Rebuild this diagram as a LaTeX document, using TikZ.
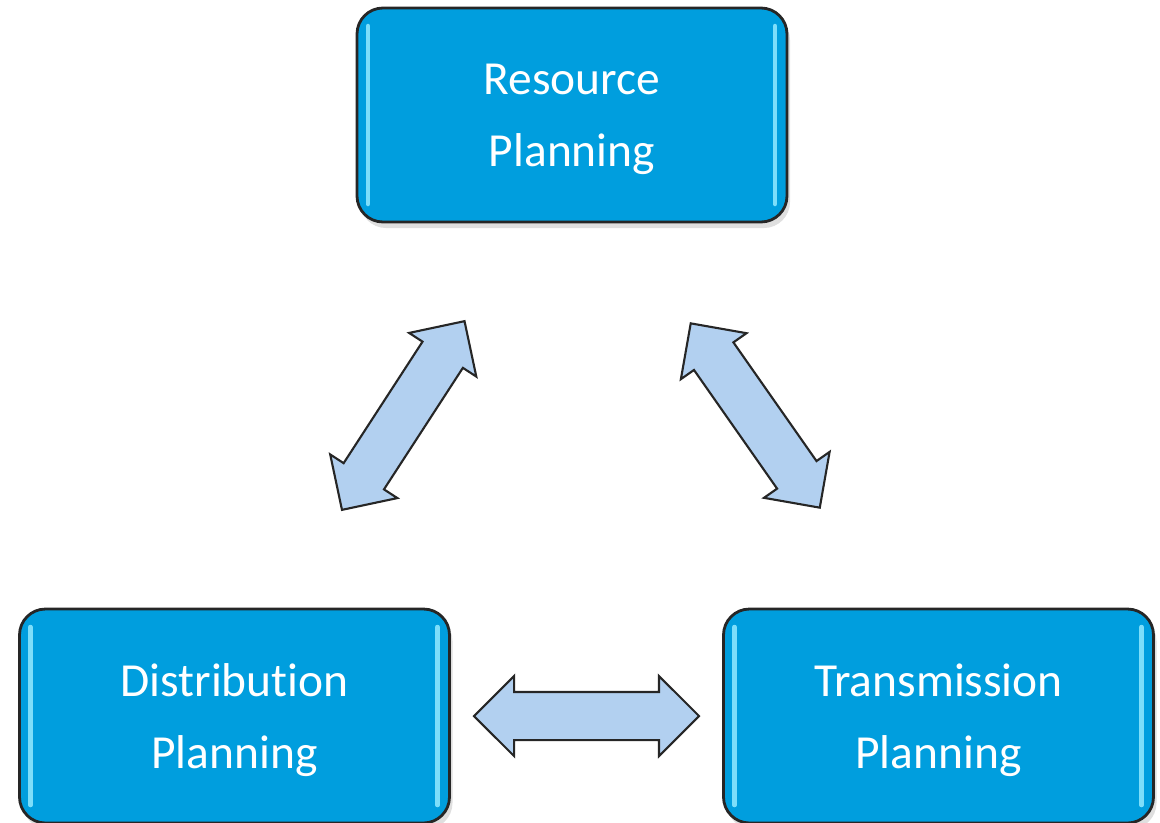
\documentclass[tikz,border=0pt]{standalone}
\usepackage{fontspec}
\setmainfont{Carlito}[Ligatures={NoCommon}]
\usetikzlibrary{shapes.arrows, positioning, calc, shadows}

\definecolor{boxblue}{RGB}{0,158,222}
\definecolor{arrowblue}{RGB}{178,208,240}
\definecolor{glossblue}{RGB}{125,222,250}

\begin{document}
\begin{tikzpicture}[
    align=center,
    plan/.style={draw=black!85, line width=0.8pt, rectangle, rounded corners=2.6mm, minimum width=4.3cm, minimum height=2.14cm, fill=boxblue, text=white, font=\fontsize{13.5}{20.5}\selectfont, text depth=0pt,
        drop shadow={shadow xshift=0.3mm, shadow yshift=-0.6mm, opacity=0.25},
        path picture={
            \draw[glossblue, line width=0.45mm, line cap=round]
                ([xshift=1.1mm, yshift=-1.8mm]path picture bounding box.north west) -- ([xshift=1.1mm, yshift=1.8mm]path picture bounding box.south west)
                ([xshift=-1.2mm, yshift=-1.8mm]path picture bounding box.north east) -- ([xshift=-1.2mm, yshift=1.8mm]path picture bounding box.south east);
        }},
    link/.style={double arrow, draw=black!85, line width=0.6pt, fill=arrowblue, inner xsep=0pt, inner ysep=0.23cm, minimum height=2.25cm, double arrow head extend=0.16cm}
]
    \useasboundingbox (0,0) rectangle (11.6,-8.22);

    % Planungsbereiche
    \node[plan] (res) at (5.72,-1.15) {Resource\\Planning};
    \node[plan] (dist) at (2.345,-7.16) {Distribution\\Planning};
    \node[plan] (trans) at (9.385,-7.16) {Transmission\\Planning};

    % Wechselwirkungen
    \node[link, rotate=57] (resdist) at ($(res)!0.5!(dist)$) {};
    \node[link, rotate=-55] (restrans) at ($(res)!0.5!(trans)$) {};
    \node[link] (disttrans) at ($(dist)!0.5!(trans)$) {};
\end{tikzpicture}
\end{document}
